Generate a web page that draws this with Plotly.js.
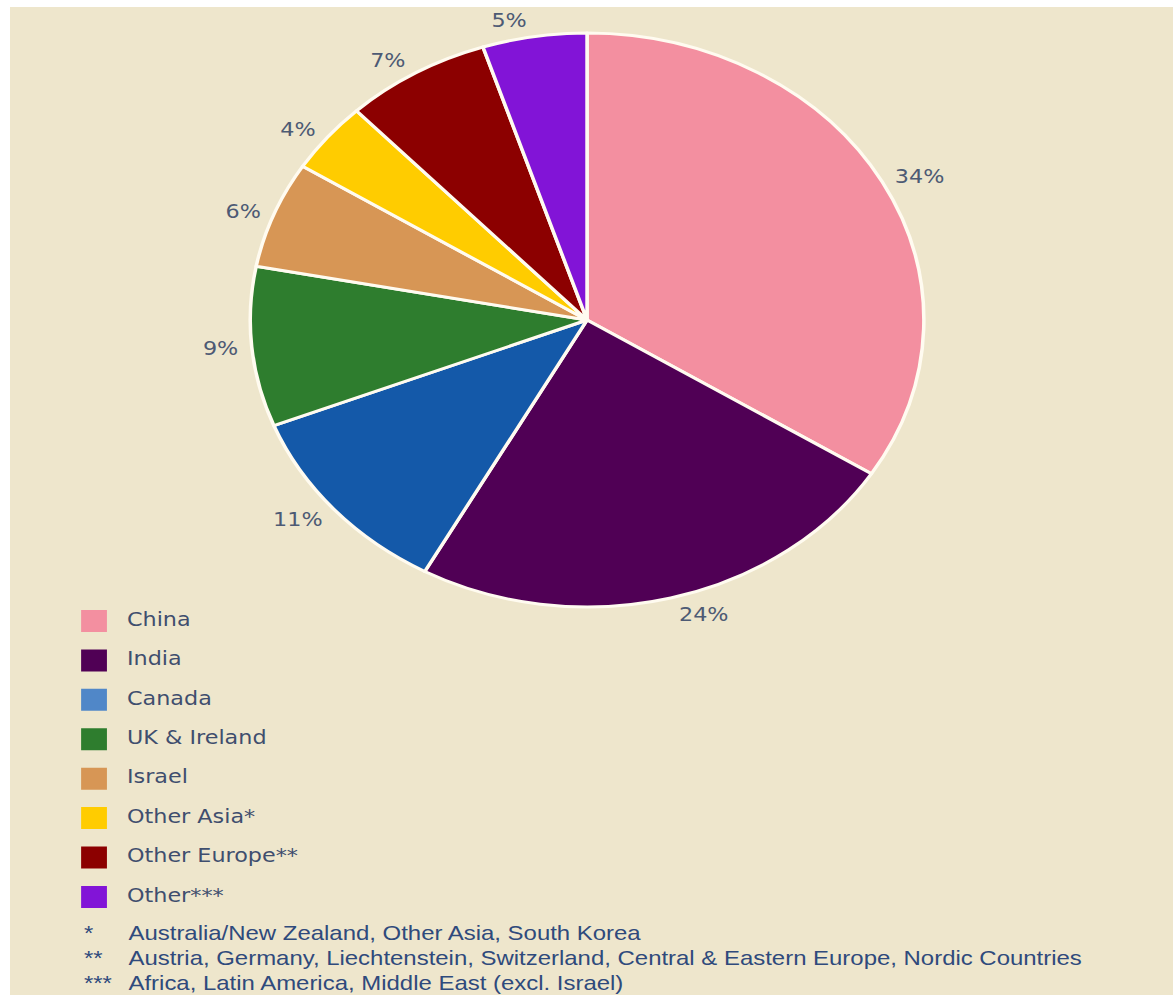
<!DOCTYPE html>
<html>
<head>
<meta charset="utf-8">
<script src="https://cdn.plot.ly/plotly-3.0.1.min.js"></script>
<style>
  html, body { margin: 0; padding: 0; background: #ffffff; overflow: hidden; width: 1173px; height: 995px; }
  #wrap { position: absolute; left: 10px; top: 7px; width: 991px; height: 988px;
          transform: scaleX(1.17356); transform-origin: 0 0; }
</style>
</head>
<body>
<div id="wrap"></div>
<script>
// ---- data ----
const categories = ['China', 'India', 'Canada', 'UK & Ireland', 'Israel', 'Other Asia*', 'Other Europe**', 'Other***'];
const shares = [34, 24, 11, 9, 6, 4, 7, 5];
const sliceColors = ['#F38FA0', '#500055', '#1459A9', '#2E7D2E', '#D79655', '#FFCC00', '#8C0000', '#8214D7'];
const legendColors = ['#F38FA0', '#500055', '#5087C8', '#2E7D2E', '#D79655', '#FFCC00', '#8C0000', '#8214D7'];
const footnoteMarks = ['*', '**', '***'];
const footnoteTexts = [
  'Australia/New Zealand, Other Asia, South Korea',
  'Austria, Germany, Liechtenstein, Switzerland, Central & Eastern Europe, Nordic Countries',
  'Africa, Latin America, Middle East (excl. Israel)'
];

const textBlue = '#3F4E6E';
const pctColor = '#4D5A74';
const noteColor = '#2F4A7C';
const bg = '#EEE6CC';

// visible pie (no labels)
const pie = {
  type: 'pie',
  labels: categories,
  values: shares,
  sort: false,
  direction: 'clockwise',
  rotation: 0,
  marker: { colors: sliceColors, line: { color: '#FFFBF0', width: 3 } },
  textinfo: 'none',
  domain: { x: [0.20656, 0.78577], y: [0.39271, 0.97368] },
  showlegend: false,
  hoverinfo: 'label+percent'
};

// transparent, slightly larger pie that only carries the outside percent labels
const pieLabels = {
  type: 'pie',
  labels: categories,
  values: shares,
  sort: false,
  direction: 'clockwise',
  rotation: 0,
  marker: { colors: categories.map(() => 'rgba(0,0,0,0)'), line: { width: 0 } },
  textinfo: 'percent',
  textposition: 'outside',
  texttemplate: '%{percent:.0%}',
  textfont: { family: 'DejaVu Sans, Verdana, sans-serif', size: 19, color: pctColor },
  domain: { x: [0.20050, 0.79183], y: [0.38664, 0.97976] },
  showlegend: false,
  hoverinfo: 'skip'
};

const legendSquares = {
  type: 'scatter',
  mode: 'markers',
  x: categories.map(() => 0),
  y: categories,
  marker: { symbol: 'square', size: 22, color: legendColors, line: { width: 0 } },
  showlegend: false,
  hoverinfo: 'skip'
};

const legendLabels = {
  type: 'scatter',
  mode: 'text',
  x: categories.map(() => 1),
  y: categories,
  text: categories,
  textposition: 'middle right',
  textfont: { family: 'DejaVu Sans, Verdana, sans-serif', size: 19, color: textBlue },
  showlegend: false,
  hoverinfo: 'skip'
};

const noteFont = { family: 'Liberation Sans, Arial, sans-serif', size: 20.4, color: noteColor };
const annotations = [];
footnoteMarks.forEach((m, i) => {
  const yy = [0.0628, 0.03745, 0.01215][i];
  annotations.push({
    xref: 'paper', yref: 'paper', x: 0.0619, y: yy, xanchor: 'left', yanchor: 'middle',
    text: m, showarrow: false, font: noteFont
  });
  annotations.push({
    xref: 'paper', yref: 'paper', x: 0.0995, y: yy, xanchor: 'left', yanchor: 'middle',
    text: footnoteTexts[i], showarrow: false, font: noteFont
  });
});

const layout = {
  width: 991,
  height: 988,
  margin: { l: 0, r: 0, t: 0, b: 0 },
  paper_bgcolor: bg,
  plot_bgcolor: 'rgba(0,0,0,0)',
  showlegend: false,
  xaxis: { visible: false, range: [-2.548, 32.72], domain: [0, 1], fixedrange: true },
  yaxis: { visible: false, type: 'category', categoryorder: 'array', categoryarray: categories,
           range: [7.5, -0.5], domain: [0.0793, 0.3985], fixedrange: true },
  annotations: annotations
};

Plotly.newPlot('wrap', [pie, pieLabels, legendSquares, legendLabels], layout, { displayModeBar: false, staticPlot: true });
</script>
</body>
</html>
